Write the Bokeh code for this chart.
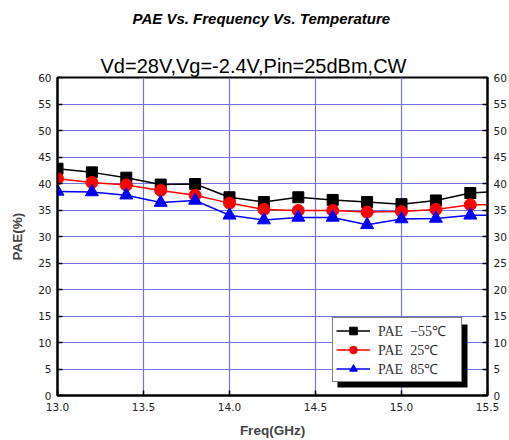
from bokeh.plotting import figure
from bokeh.models import (LinearAxis, FixedTicker, Legend, LegendItem, Title,
                          BoxAnnotation, Range1d, NumeralTickFormatter)
from bokeh.embed import file_html
from bokeh.resources import INLINE

# ---- data ----
freq_ghz = [13.0, 13.2, 13.4, 13.6, 13.8, 14.0, 14.2, 14.4, 14.6, 14.8, 15.0, 15.2, 15.4, 15.6]
pae_m55 = [42.8, 42.1, 41.1, 39.8, 39.9, 37.4, 36.5, 37.4, 36.9, 36.5, 36.1, 36.8, 38.2, 38.6]
pae_25 = [40.9, 40.2, 39.7, 38.7, 37.8, 36.3, 35.1, 34.9, 34.9, 34.6, 34.7, 35.1, 36.0, 36.0]
pae_85 = [38.5, 38.4, 37.8, 36.4, 36.8, 34.0, 33.1, 33.6, 33.6, 32.2, 33.3, 33.4, 34.0, 34.0]
series_labels = ["PAE\u00a0\u00a0\u221255\u2103", "PAE\u00a0\u00a025\u2103", "PAE\u00a0\u00a085\u2103"]
x_ticks = [13.0, 13.5, 14.0, 14.5, 15.0, 15.5]
y_ticks = [0, 5, 10, 15, 20, 25, 30, 35, 40, 45, 50, 55, 60]
main_title = "PAE Vs. Frequency Vs. Temperature"
sub_title = "Vd=28V,Vg=-2.4V,Pin=25dBm,CW"
x_label = "Freq(GHz)"
y_label = "PAE(%)"

TICK_FONT = "DejaVu Sans"
GRID = "#7373e6"

p = figure(width=509, height=440, x_range=Range1d(13.0, 15.5), y_range=Range1d(0, 60),
           output_backend="svg", toolbar_location=None,
           min_border_left=57, min_border_right=21, min_border_top=77, min_border_bottom=44)
p.background_fill_color = "white"
p.border_fill_color = "white"
p.outline_line_color = "black"
p.outline_line_width = 2

# main title (outer panel), padded below so it sits near the top of the canvas
p.title.text = main_title
p.title.align = "left"
p.title.offset = 75
p.title.text_font = "Liberation Sans"
p.title.text_font_size = "15px"
p.title.text_font_style = "bold italic"
p.title.text_color = "black"
p.title.standoff = 0
p.title.padding = dict(left=0, right=0, top=0, bottom=25)

# subtitle (inner panel, right above the frame)
p.add_layout(Title(text=sub_title, align="left", offset=43, text_font="Liberation Sans",
                   text_font_size="20px", text_font_style="normal", text_color="black",
                   standoff=2), "above")

def style_axis(ax, ticks):
    ax.ticker = FixedTicker(ticks=ticks)
    ax.axis_line_width = 2
    ax.axis_line_color = "black"
    ax.major_tick_in = 5
    ax.major_tick_out = 0
    ax.major_tick_line_width = 1.5
    ax.minor_tick_line_color = None
    ax.major_label_text_font = TICK_FONT
    ax.major_label_text_font_size = "10.5px"
    ax.major_label_text_color = "#222222"

style_axis(p.xaxis[0], x_ticks)
p.xaxis[0].formatter = NumeralTickFormatter(format="0.0")
p.xaxis[0].major_label_standoff = 7
p.xaxis[0].axis_label = x_label
p.xaxis[0].axis_label_standoff = 9
p.xaxis[0].axis_label_text_font = "Liberation Sans"
p.xaxis[0].axis_label_text_font_size = "13.5px"
p.xaxis[0].axis_label_text_font_style = "bold"

style_axis(p.yaxis[0], y_ticks)
p.yaxis[0].major_label_standoff = 6
p.yaxis[0].axis_label = y_label
p.yaxis[0].axis_label_standoff = 10
p.yaxis[0].axis_label_text_font = "Liberation Sans"
p.yaxis[0].axis_label_text_font_size = "13.5px"
p.yaxis[0].axis_label_text_font_style = "bold"

right_axis = LinearAxis()
style_axis(right_axis, y_ticks)
right_axis.major_label_standoff = 6
p.add_layout(right_axis, "right")

p.xgrid.ticker = FixedTicker(ticks=x_ticks)
p.ygrid.ticker = FixedTicker(ticks=y_ticks)
for g in (p.xgrid[0], p.ygrid[0]):
    g.grid_line_color = GRID
    g.grid_line_width = 1.2

# series
l1 = p.line(freq_ghz, pae_m55, line_color="black", line_width=1.5)
m1 = p.scatter(freq_ghz, pae_m55, marker="square", size=11, fill_color="black", line_color="black")
l2 = p.line(freq_ghz, pae_25, line_color="red", line_width=1.5)
m2 = p.scatter(freq_ghz, pae_25, marker="circle", size=12, fill_color="red", line_color="red")
l3 = p.line(freq_ghz, pae_85, line_color="blue", line_width=1.5)
m3 = p.scatter(freq_ghz, pae_85, marker="triangle", size=13, fill_color="blue", line_color="blue")

# legend with drop shadow
shadow = BoxAnnotation(left=280, right=410, bottom=8, top=71,
                       left_units="screen", right_units="screen",
                       bottom_units="screen", top_units="screen",
                       fill_color="black", fill_alpha=1, line_color=None)
p.add_layout(shadow)

legend = Legend(items=[LegendItem(label=series_labels[0], renderers=[l1, m1]),
                       LegendItem(label=series_labels[1], renderers=[l2, m2]),
                       LegendItem(label=series_labels[2], renderers=[l3, m3])],
                location=(275, 13), margin=0, padding=3, spacing=0,
                glyph_width=34, glyph_height=19, label_height=19, label_width=80,
                label_standoff=8,
                label_text_font="Liberation Serif", label_text_font_size="14px",
                label_text_color="#333333",
                border_line_color="black", border_line_width=1,
                background_fill_color="white", background_fill_alpha=1)
p.add_layout(legend)

open("out.html", "w").write(file_html(p, INLINE))
